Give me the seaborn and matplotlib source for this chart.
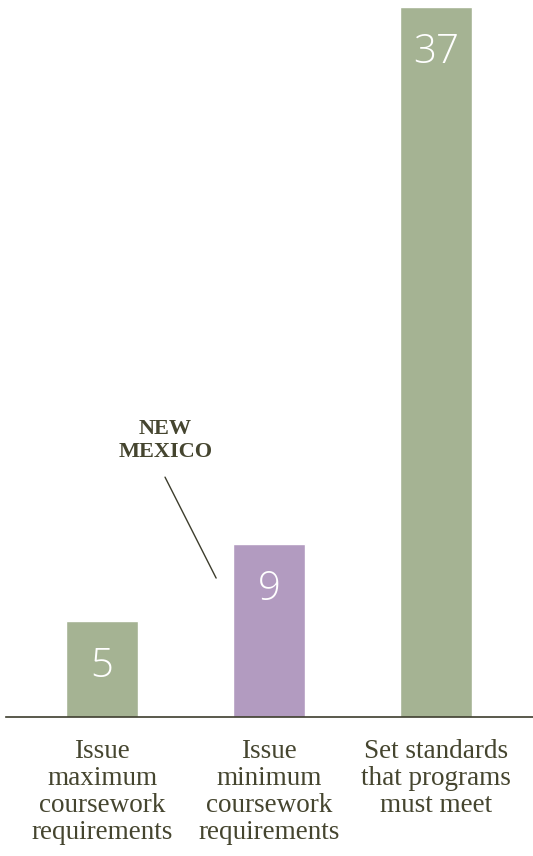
import matplotlib
matplotlib.use("Agg")
import matplotlib.pyplot as plt
import pandas as pd
import seaborn as sns

# Datos del gráfico
categorias = ["Issue\nmaximum\ncoursework\nrequirements",
              "Issue\nminimum\ncoursework\nrequirements",
              "Set standards\nthat programs\nmust meet"]
valores = [5, 9, 37]
grupo = ["otros", "nm", "otros"]
colores = {"otros": "#a6b88e", "nm": "#b395c6"}

df = pd.DataFrame({"categoria": categorias, "valor": valores, "grupo": grupo})

sns.set_style("white")
texto = "#45452f"

fig = plt.figure(figsize=(5.33, 8.56), dpi=100)
ax = fig.add_axes([6 / 533, (856 - 717) / 856, 527 / 533, 710 / 856])

sns.barplot(data=df, x="categoria", y="valor", hue="grupo", palette=colores,
            dodge=False, width=0.43, legend=False, ax=ax)

ax.set_ylim(0, 37)
ax.set_xlim(-0.575, 2.58)
ax.set_xlabel("")
ax.set_ylabel("")
ax.set_yticks([])
for s in ["top", "right", "left"]:
    ax.spines[s].set_visible(False)
ax.spines["bottom"].set_color("#3d3d2d")
ax.spines["bottom"].set_linewidth(1.2)
ax.tick_params(axis="x", length=0, pad=16)
ax.set_xticks(range(len(categorias)))
ax.set_xticklabels(categorias, family="Liberation Serif", fontsize=19.5,
                   color=texto, linespacing=1.1)

# Valores dentro de las barras
for i, v in enumerate(valores):
    ax.text(i, v - 2.35, str(v), ha="center", va="center", color="white",
            fontsize=29, family="Open Sans", fontweight="light")

# Anotación New Mexico
ax.text(0.38, 13.3, "NEW\nMEXICO", ha="center", va="bottom", fontsize=16,
        fontweight="bold", family="Liberation Serif", color=texto,
        linespacing=1.2)
ax.annotate("", xy=(0.683, 7.24), xytext=(0.377, 12.5),
            arrowprops=dict(arrowstyle="-", color="#3d3d2d", lw=1,
                            shrinkA=0, shrinkB=0))

fig.savefig("out.png", dpi=100)
